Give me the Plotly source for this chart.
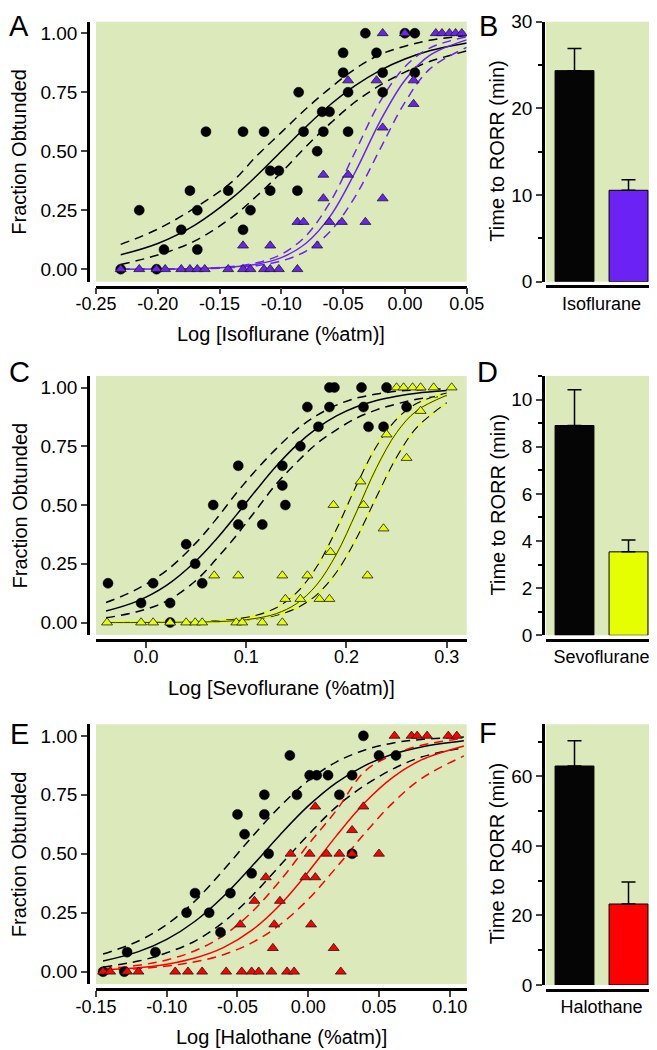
import plotly.graph_objects as go

# the page body keeps an 8px margin, so the figure is drawn 8px in and 8px smaller
OFF = 8
W, H = 657 - OFF, 1050 - OFF
GREEN = "#dce9bb"
FONT = "Liberation Sans, Arial, sans-serif"
PURPLE = "#6a22f5"
YELLOW = "#e6ff00"
RED = "#ff0000"

# ---------- A: isoflurane, fraction obtunded
iso_ctrl_x = [-0.230, -0.201, -0.215, -0.195, -0.181, -0.174, -0.168, -0.168, -0.161, -0.143,
              -0.131, -0.131, -0.125, -0.114, -0.109, -0.102, -0.109, -0.087, -0.086, -0.082,
              -0.071, -0.067, -0.061, -0.066, -0.050, -0.050, -0.046, -0.046, -0.032, -0.023,
              -0.018, -0.018, 0.000, 0.008, 0.008]
iso_ctrl_y = [0, 0, 0.25, 0.083, 0.167, 0.333, 0.25, 0.083, 0.583, 0.333,
              0.583, 0.167, 0.25, 0.583, 0.417, 0.417, 0.333, 0.333, 0.75, 0.583,
              0.5, 0.667, 0.667, 0.583, 0.917, 0.833, 0.75, 0.583, 1.0, 0.917,
              0.833, 0.75, 1.0, 1.0, 0.833]
iso_drug_x = [-0.230, -0.215, -0.201, -0.194, -0.181, -0.174, -0.168, -0.162, -0.143, -0.131,
              -0.125, -0.114, -0.109, -0.102, -0.087,
              -0.131, -0.109, -0.071,
              -0.087, -0.082, -0.061, -0.051, -0.032,
              -0.066, -0.018, -0.066, -0.046, -0.018, 0.007,
              -0.046, -0.023, 0.007,
              -0.018, 0.000, 0.025, 0.030, 0.036, 0.041, 0.046]
iso_drug_y = [0] * 15 + [0.1] * 3 + [0.2] * 5 + [0.3, 0.3, 0.4, 0.4, 0.6, 0.7] + [0.8] * 3 + [1.0] * 7

iso_fit_x = [-0.23, -0.20, -0.17, -0.14, -0.12, -0.10, -0.08, -0.06, -0.04, -0.02, 0.00, 0.02, 0.05]
iso_ctrl_fit = [0.061, 0.109, 0.187, 0.301, 0.396, 0.500, 0.604, 0.699, 0.779, 0.843, 0.891, 0.926, 0.959]
iso_ctrl_hi = [0.105, 0.17, 0.26, 0.37, 0.48, 0.58, 0.68, 0.77, 0.85, 0.91, 0.945, 0.97, 0.99]
iso_ctrl_lo = [0.02, 0.06, 0.12, 0.22, 0.31, 0.41, 0.52, 0.62, 0.71, 0.78, 0.835, 0.88, 0.925]
iso_drug_fit = [0.0, 0.001, 0.002, 0.009, 0.021, 0.049, 0.110, 0.228, 0.414, 0.628, 0.801, 0.906, 0.972]
iso_drug_hi = [0.0, 0.001, 0.003, 0.011, 0.027, 0.063, 0.142, 0.289, 0.500, 0.711, 0.858, 0.937, 0.985]
iso_drug_lo = [0.0, 0.0, 0.001, 0.007, 0.015, 0.035, 0.077, 0.163, 0.31, 0.51, 0.707, 0.848, 0.94]

# ---------- C: sevoflurane
sevo_ctrl_x = [-0.038, -0.005, 0.007, 0.024, 0.024, 0.040, 0.049, 0.056, 0.067, 0.092,
               0.096, 0.092, 0.116, 0.136, 0.136, 0.139, 0.154, 0.161, 0.172, 0.183,
               0.183, 0.188, 0.215, 0.217, 0.222, 0.237, 0.240, 0.260]
sevo_ctrl_y = [0.167, 0.083, 0.167, 0.083, 0.0, 0.333, 0.25, 0.167, 0.5, 0.667,
               0.5, 0.417, 0.417, 0.667, 0.583, 0.5, 0.75, 0.917, 0.833, 0.917,
               1.0, 1.0, 1.0, 0.917, 0.833, 0.833, 1.0, 0.917]
sevo_drug_x = [-0.039, -0.005, 0.007, 0.024, 0.040, 0.049, 0.056, 0.090, 0.096, 0.116, 0.136,
               0.139, 0.154, 0.173, 0.183,
               0.068, 0.092, 0.136, 0.161, 0.221,
               0.184, 0.237, 0.187, 0.217, 0.214, 0.260, 0.240, 0.274,
               0.250, 0.257, 0.266, 0.274, 0.287, 0.305]
sevo_drug_y = [0] * 11 + [0.1] * 4 + [0.2] * 5 + [0.3, 0.4, 0.5, 0.5, 0.6, 0.7, 0.8, 0.9] + [1.0] * 6

sevo_fit_x = [-0.04, -0.01, 0.02, 0.05, 0.07, 0.09, 0.11, 0.13, 0.15, 0.17, 0.19, 0.21, 0.23, 0.25, 0.27, 0.30]
sevo_ctrl_fit = [0.049, 0.089, 0.157, 0.263, 0.354, 0.457, 0.564, 0.666, 0.754, 0.825, 0.879, 0.918, 0.945, 0.963, 0.976, 0.987]
sevo_ctrl_hi = [0.085, 0.14, 0.22, 0.34, 0.44, 0.55, 0.65, 0.74, 0.82, 0.88, 0.925, 0.955, 0.972, 0.984, 0.99, 0.995]
sevo_ctrl_lo = [0.02, 0.045, 0.09, 0.18, 0.27, 0.37, 0.48, 0.59, 0.68, 0.76, 0.82, 0.87, 0.905, 0.93, 0.95, 0.965]
sevo_drug_fit = [0.0, 0.0, 0.001, 0.002, 0.004, 0.008, 0.018, 0.038, 0.080, 0.159, 0.291, 0.471, 0.659, 0.808, 0.901, 0.967]
sevo_drug_hi = [0.0, 0.001, 0.002, 0.004, 0.008, 0.015, 0.031, 0.063, 0.126, 0.235, 0.397, 0.584, 0.75, 0.865, 0.932, 0.977]
sevo_drug_lo = [0.0, 0.0, 0.0, 0.001, 0.003, 0.007, 0.015, 0.031, 0.061, 0.117, 0.214, 0.359, 0.535, 0.703, 0.829, 0.935]

# ---------- E: halothane
halo_ctrl_x = [-0.145, -0.130, -0.128, -0.108, -0.086, -0.070, -0.080, -0.055, -0.062, -0.040,
               -0.028, -0.045, -0.050, -0.031, -0.031, -0.008, 0.022, -0.013, 0.001, 0.006,
               0.014, 0.031, 0.031, 0.039, 0.050, 0.062]
halo_ctrl_y = [0, 0, 0.083, 0.083, 0.25, 0.25, 0.333, 0.333, 0.167, 0.417,
               0.5, 0.583, 0.667, 0.667, 0.75, 0.75, 0.75, 0.917, 0.833, 0.833,
               0.833, 0.833, 0.5, 1.0, 0.917, 0.917]
halo_drug_x = [-0.145, -0.140, -0.128, -0.120, -0.094, -0.085, -0.075, -0.058, -0.047, -0.040,
               -0.035, -0.026, -0.015, -0.010, 0.023,
               -0.025, 0.018,
               -0.048, -0.024, 0.002,
               -0.038, -0.020,
               -0.030, -0.002, 0.005,
               -0.0125, 0.001, 0.013, 0.022, 0.031, 0.050,
               0.031, 0.005, 0.039,
               0.061, 0.073, 0.077, 0.084, 0.099, 0.105]
halo_drug_y = [0] * 15 + [0.1] * 2 + [0.2] * 3 + [0.3] * 2 + [0.4] * 3 + [0.5] * 6 + [0.6, 0.7, 0.7] + [1.0] * 6

halo_fit_x = [-0.145, -0.12, -0.10, -0.08, -0.06, -0.04, -0.02, 0.00, 0.02, 0.04, 0.06, 0.08, 0.11]
halo_ctrl_fit = [0.045, 0.085, 0.137, 0.214, 0.319, 0.446, 0.580, 0.703, 0.802, 0.874, 0.923, 0.953, 0.979]
halo_ctrl_hi = [0.075, 0.13, 0.20, 0.30, 0.43, 0.57, 0.70, 0.81, 0.89, 0.94, 0.97, 0.985, 0.995]
halo_ctrl_lo = [0.02, 0.045, 0.08, 0.13, 0.21, 0.32, 0.45, 0.58, 0.70, 0.79, 0.86, 0.91, 0.95]
halo_drug_fit = [0.008, 0.017, 0.032, 0.058, 0.102, 0.175, 0.283, 0.423, 0.577, 0.717, 0.825, 0.898, 0.957]
halo_drug_hi = [0.013, 0.027, 0.050, 0.089, 0.153, 0.252, 0.385, 0.539, 0.685, 0.85, 0.92, 0.96, 0.99]
halo_drug_lo = [0.007, 0.013, 0.024, 0.042, 0.072, 0.122, 0.199, 0.307, 0.443, 0.587, 0.717, 0.819, 0.915]

# ---------- bar panels: time to RORR (min)
iso_time = [24.35, 10.55]
iso_time_err = [2.55, 1.22]
sevo_time = [8.9, 3.54]
sevo_time_err = [1.52, 0.5]
halo_time = [63.0, 23.3]
halo_time_err = [7.3, 6.3]

fig = go.Figure()


def px_x(p):
    return (p - OFF) / W


def px_y(p):
    return 1 - (p - OFF) / H


def curve(n, x, y, color, dash=None, width=1.5):
    fig.add_trace(go.Scatter(x=x, y=y, mode="lines", xaxis="x" + n, yaxis="y" + n,
                             line=dict(color=color, width=width, dash=dash, shape="spline"),
                             hoverinfo="skip"))


def dose_panel(n, top, bot, xr, xt, xtt, fx, cfit, chi, clo, dfit, dhi, dlo,
               cx, cy, dx, dy, dcol, yellow=False):
    dash = "9px,6px"
    curve(n, fx, chi, "black", dash)
    curve(n, fx, clo, "black", dash)
    curve(n, fx, cfit, "black")
    if yellow:
        for yy in (dhi, dlo):
            curve(n, fx, yy, dcol, None, 1.6)
            curve(n, fx, yy, "black", dash, 1.1)
        curve(n, fx, dfit, dcol, None, 2.2)
        curve(n, fx, dfit, "#222200", None, 0.9)
    else:
        curve(n, fx, dhi, dcol, dash)
        curve(n, fx, dlo, dcol, dash)
        curve(n, fx, dfit, dcol)
    fig.add_trace(go.Scatter(x=cx, y=cy, mode="markers", xaxis="x" + n, yaxis="y" + n,
                             marker=dict(symbol="circle", size=10, color="black",
                                         line=dict(color="black", width=0.5))))
    fig.add_trace(go.Scatter(x=dx, y=dy, mode="markers", xaxis="x" + n, yaxis="y" + n,
                             marker=dict(symbol="triangle-up", size=9.5, color=dcol,
                                         line=dict(color="#1a1a1a", width=0.8))))
    fig.layout["xaxis" + n] = dict(
        domain=[px_x(96), px_x(466.7)], range=xr, anchor="free", position=px_y(bot + 5),
        tickvals=xt, ticktext=xtt, ticks="outside", ticklen=6, tickwidth=2, automargin=False,
        ticklabelstandoff=-6,
        showline=True, linewidth=2.5, linecolor="black", showgrid=False, zeroline=False,
        tickfont=dict(size=18, family=FONT, color="black"), fixedrange=True)
    fig.layout["yaxis" + n] = dict(
        domain=[px_y(bot), px_y(top)], range=[-0.053, 1.049], anchor="free", position=px_x(88),
        tickvals=[0, 0.25, 0.5, 0.75, 1.0], ticktext=["0.00", "0.25", "0.50", "0.75", "1.00"],
        ticks="outside", ticklen=6, tickwidth=2, automargin=False,
        showline=True, linewidth=2.5, linecolor="black", showgrid=False, zeroline=False,
        tickfont=dict(size=19, family=FONT, color="black"), fixedrange=True)


def bar_panel(n, top, bot, vals, errs, col, ymax, dt, mdt, label):
    fig.add_trace(go.Bar(x=[1, 2], y=vals, width=0.72, xaxis="x" + n, yaxis="y" + n,
                         marker=dict(color=["#050505", col], line=dict(color="black", width=1)),
                         error_y=dict(type="data", array=errs, arrayminus=[0, 0], symmetric=False,
                                      color="black", thickness=1.5, width=7)))
    fig.layout["xaxis" + n] = dict(
        domain=[px_x(546), px_x(656)], range=[0.472, 2.509], anchor="free", position=px_y(bot + 4.5),
        tickvals=[1.5], ticktext=[label], ticks="", showline=True, linewidth=2.5, linecolor="black",
        showgrid=False, zeroline=False, tickfont=dict(size=18, family=FONT, color="black"),
        fixedrange=True, automargin=False)
    fig.layout["yaxis" + n] = dict(
        domain=[px_y(bot), px_y(top)], range=[0, ymax], anchor="free", position=px_x(543),
        dtick=dt, tick0=0, ticks="outside", ticklen=6, tickwidth=2, automargin=False,
        minor=dict(dtick=mdt, ticks="outside", ticklen=4, tickwidth=1.5, tickcolor="black"),
        showline=True, linewidth=2.5, linecolor="black", showgrid=False, zeroline=False,
        tickfont=dict(size=19, family=FONT, color="black"), fixedrange=True)


dose_panel("", 21.7, 281.7, [-0.25, 0.05],
           [-0.25, -0.2, -0.15, -0.1, -0.05, 0.0, 0.05],
           ["-0.25", "-0.20", "-0.15", "-0.10", "-0.05", "0.00", "0.05"],
           iso_fit_x, iso_ctrl_fit, iso_ctrl_hi, iso_ctrl_lo, iso_drug_fit, iso_drug_hi, iso_drug_lo,
           iso_ctrl_x, iso_ctrl_y, iso_drug_x, iso_drug_y, PURPLE)
bar_panel("2", 21.7, 281.7, iso_time, iso_time_err, PURPLE, 30, 10, 5, "Isoflurane")

dose_panel("3", 376, 635, [-0.05, 0.32], [0.0, 0.1, 0.2, 0.3], ["0.0", "0.1", "0.2", "0.3"],
           sevo_fit_x, sevo_ctrl_fit, sevo_ctrl_hi, sevo_ctrl_lo, sevo_drug_fit, sevo_drug_hi, sevo_drug_lo,
           sevo_ctrl_x, sevo_ctrl_y, sevo_drug_x, sevo_drug_y, YELLOW, yellow=True)
bar_panel("4", 376, 635.3, sevo_time, sevo_time_err, YELLOW, 11, 2, 1, "Sevoflurane")

dose_panel("5", 724.3, 984.2, [-0.15, 0.112],
           [-0.15, -0.1, -0.05, 0.0, 0.05, 0.1],
           ["-0.15", "-0.10", "-0.05", "0.00", "0.05", "0.10"],
           halo_fit_x, halo_ctrl_fit, halo_ctrl_hi, halo_ctrl_lo, halo_drug_fit, halo_drug_hi, halo_drug_lo,
           halo_ctrl_x, halo_ctrl_y, halo_drug_x, halo_drug_y, RED)
bar_panel("6", 724.3, 985, halo_time, halo_time_err, RED, 75, 20, 10, "Halothane")

ann = []


def text(x, y, s, size=20, angle=0, yanchor="middle"):
    ann.append(dict(x=px_x(x), y=px_y(y), xref="paper", yref="paper", text=s, showarrow=False,
                    textangle=angle, xanchor="center", yanchor=yanchor,
                    font=dict(size=size, family=FONT, color="black")))


text(19, OFF, "A", 29, yanchor="top")
text(488, OFF, "B", 29, yanchor="top")
for lab, x, y in [("C", 19, 372), ("D", 487, 372), ("E", 19, 734), ("F", 488, 733)]:
    text(x, y, lab, 29)
for c in [151.7, 505.5, 854.2]:
    text(19, c, "Fraction Obtunded", 20, -90)
    text(497, c, "Time to RORR (min)", 20, -90)
text(281, 334, "Log [Isoflurane (%atm)]")
text(281, 688, "Log [Sevoflurane (%atm)]")
text(281, 1037, "Log [Halothane (%atm)]")

fig.update_layout(width=W, height=H, margin=dict(l=0, r=0, t=0, b=0, autoexpand=False), showlegend=False,
                  paper_bgcolor="white", plot_bgcolor=GREEN, annotations=ann,
                  font=dict(family=FONT, color="black"))

fig.write_html("out.html")
